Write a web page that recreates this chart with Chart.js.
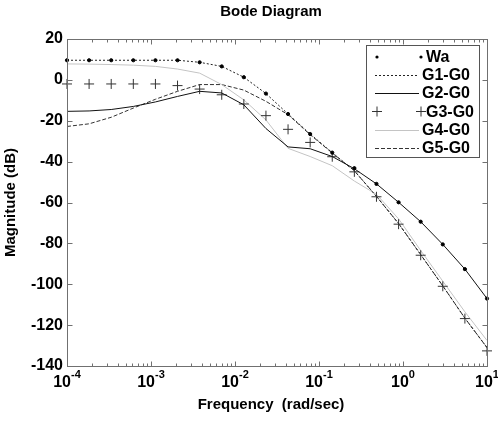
<!DOCTYPE html>
<html>
<head>
<meta charset="utf-8">
<script src="https://cdn.jsdelivr.net/npm/chart.js@4"></script>
<style>
  html, body { margin: 0; padding: 0; background: #fff; }
  #wrap { width: 498px; height: 421px; }
</style>
</head>
<body>
<div id="wrap"><canvas id="chart" width="498" height="421"></canvas></div>
<script>
// Bode Diagram - magnitude of Wa and five error curves G1..G5 minus G0
// 20 log-spaced frequencies from 1e-4 to 1e1 rad/sec

const freqs = [1e-4, 1.833e-4, 3.360e-4, 6.158e-4, 1.129e-3, 2.069e-3, 3.793e-3, 6.952e-3,
  1.274e-2, 2.336e-2, 4.281e-2, 7.848e-2, 0.1438, 0.2637, 0.4833, 0.8859, 1.624, 2.976, 5.456, 10];

const wa   = [9.6, 9.6, 9.6, 9.6, 9.6, 9.6, 8.6, 6.6, 1.3, -6.7, -16.7, -26.5, -35.6, -43.2, -50.9, -59.9, -69.4, -80.5, -92.6, -107.0];
const g1g0 = [9.6, 9.6, 9.6, 9.6, 9.6, 9.6, 8.6, 6.6, 1.3, -6.7, -16.7, -26.5, -35.6, -44.5, -57.0, -70.3, -85.5, -100.8, -116.6, -131.0];
const g2g0 = [-15.4, -15.2, -14.5, -13.0, -10.8, -8.1, -5.6, -6.4, -12.2, -23.8, -32.8, -33.7, -37.5, -43.5, -50.9, -59.9, -69.4, -80.5, -92.6, -107.0];
const g3g0 = [-2.0, -2.0, -2.0, -2.0, -2.0, -2.8, -4.5, -7.3, -11.8, -17.5, -24.2, -30.6, -37.6, -45.0, -57.2, -70.6, -85.8, -101.0, -116.8, -132.6];
const g4g0 = [7.8, 7.7, 7.5, 7.2, 6.6, 5.3, 3.3, -2.3, -9.8, -19.6, -33.5, -37.5, -42.0, -49.5, -56.0, -68.0, -83.5, -98.5, -113.5, -127.5];
const g5g0 = [-22.8, -21.5, -18.3, -13.8, -9.5, -5.6, -2.3, -2.3, -5.0, -10.5, -17.0, -26.8, -35.8, -44.5, -57.0, -70.3, -85.5, -100.8, -116.6, -131.0];

const xExponents = [-4, -3, -2, -1, 0, 1];
const yTicks = [20, 0, -20, -40, -60, -80, -100, -120, -140];

const FONT = 'Arial, "Liberation Sans", Helvetica, sans-serif';

function pts(vals) { return vals.map((v, i) => ({ x: freqs[i], y: v })); }

// frame with inward ticks, x tick labels with superscripts, title, x label, legend
const bodeDecor = {
  id: 'bodeDecor',
  afterDatasetsDraw(chart) {
    const ctx = chart.ctx, a = chart.chartArea, xs = chart.scales.x, ys = chart.scales.y;
    ctx.save();
    ctx.strokeStyle = '#707070';
    ctx.lineWidth = 1;
    const L = Math.round(a.left) + 0.5, R = Math.round(a.right) + 0.5;
    const T = Math.round(a.top) + 0.5, B = Math.round(a.bottom) + 0.5;
    ctx.strokeRect(L, T, R - L, B - T);
    ctx.beginPath();
    // x ticks (log minor + major), bottom and top
    for (let e = -4; e <= 0; e++) {
      for (let m = 1; m <= 9; m++) {
        const px = Math.round(xs.getPixelForValue(m * Math.pow(10, e))) + 0.5;
        const len = m === 1 ? 5 : 3;
        ctx.moveTo(px, B); ctx.lineTo(px, B - len);
        ctx.moveTo(px, T); ctx.lineTo(px, T + len);
      }
    }
    // y ticks, left and right
    yTicks.forEach(v => {
      const py = Math.round(ys.getPixelForValue(v)) + 0.5;
      ctx.moveTo(L, py); ctx.lineTo(L + 5, py);
      ctx.moveTo(R, py); ctx.lineTo(R - 5, py);
    });
    ctx.stroke();

    // x tick labels 10^n
    ctx.fillStyle = '#000';
    ctx.textBaseline = 'alphabetic';
    ctx.textAlign = 'left';
    xExponents.forEach(e => {
      const px = xs.getPixelForValue(Math.pow(10, e));
      const ex = String(e);
      ctx.font = 'bold 16px ' + FONT;
      const w1 = ctx.measureText('10').width;
      ctx.font = 'bold 11px ' + FONT;
      const w2 = ctx.measureText(ex).width;
      const x0 = px - (w1 + w2) / 2;
      ctx.font = 'bold 16px ' + FONT;
      ctx.fillText('10', x0, 387);
      ctx.font = 'bold 11px ' + FONT;
      ctx.fillText(ex, x0 + w1, 378);
    });

    // title and x axis label
    ctx.textAlign = 'center';
    ctx.textBaseline = 'middle';
    ctx.font = 'bold 15px ' + FONT;
    ctx.fillText('Bode Diagram', 271, 12);
    ctx.fillText('Frequency  (rad/sec)', 271, 405);
    ctx.restore();
  },
  afterDraw(chart) {
    const ctx = chart.ctx;
    ctx.save();
    ctx.fillStyle = '#fff';
    ctx.fillRect(366.5, 45.5, 113, 112);
    ctx.strokeStyle = '#555';
    ctx.lineWidth = 1;
    ctx.strokeRect(366.5, 45.5, 113, 112);
    const rows = [57, 75, 93, 111.5, 129.5, 147.5];
    chart.data.datasets.forEach((ds, i) => {
      const y = rows[i];
      ctx.save();
      if (ds.showLine === false) {
        ctx.fillStyle = ds.backgroundColor;
        ctx.strokeStyle = ds.borderColor;
        ctx.lineWidth = 1;
        [377, 421].forEach(x => {
          if (ds.pointStyle === 'cross') {
            ctx.beginPath();
            ctx.moveTo(x - 5, y); ctx.lineTo(x + 5, y);
            ctx.moveTo(x, y - 5); ctx.lineTo(x, y + 5);
            ctx.stroke();
          } else {
            ctx.beginPath();
            ctx.arc(x, y, ds.pointRadius, 0, Math.PI * 2);
            ctx.fill();
          }
        });
      } else {
        ctx.strokeStyle = ds.borderColor;
        ctx.lineWidth = ds.borderWidth;
        ctx.setLineDash(ds.borderDash || []);
        ctx.beginPath();
        ctx.moveTo(375, Math.round(y) + 0.5);
        ctx.lineTo(419, Math.round(y) + 0.5);
        ctx.stroke();
      }
      ctx.restore();
      ctx.fillStyle = '#000';
      ctx.font = 'bold 16px ' + FONT;
      ctx.textAlign = 'left';
      ctx.textBaseline = 'middle';
      ctx.fillText(ds.label, ds.showLine === false ? 426 : 422, y + 1);
    });
    ctx.restore();
  }
};

new Chart(document.getElementById('chart'), {
  type: 'line',
  data: {
    datasets: [
      { label: 'Wa', data: pts(wa), showLine: false, pointStyle: 'circle', pointRadius: 1.6,
        borderColor: '#000', backgroundColor: '#000', clip: false },
      { label: 'G1-G0', data: pts(g1g0), borderColor: '#222', borderWidth: 1, borderDash: [2, 2],
        pointRadius: 0, fill: false },
      { label: 'G2-G0', data: pts(g2g0), borderColor: '#111', borderWidth: 1,
        pointRadius: 0, fill: false },
      { label: 'G3-G0', data: pts(g3g0), showLine: false, pointStyle: 'cross', pointRadius: 5,
        borderColor: '#333', backgroundColor: '#333', borderWidth: 1, clip: false },
      { label: 'G4-G0', data: pts(g4g0), borderColor: '#c4c4c4', borderWidth: 1,
        pointRadius: 0, fill: false },
      { label: 'G5-G0', data: pts(g5g0), borderColor: '#333', borderWidth: 1, borderDash: [4, 2],
        pointRadius: 0, fill: false },
    ]
  },
  options: {
    responsive: false,
    animation: false,
    events: [],
    layout: { padding: { top: 39, right: 11, bottom: 0, left: 0 } },
    elements: { line: { tension: 0 } },
    scales: {
      x: {
        type: 'logarithmic', min: 1e-4, max: 10,
        grid: { display: false, drawTicks: false },
        border: { display: false },
        ticks: { display: false },
        afterFit: s => { s.height = 55; }
      },
      y: {
        min: -140, max: 20,
        grid: { display: false, drawTicks: false },
        border: { display: false },
        ticks: { stepSize: 20, color: '#000', padding: 4, font: { family: FONT, size: 16, weight: 'bold' } },
        title: { display: true, text: 'Magnitude (dB)', color: '#000', padding: { top: 2, bottom: 0 },
          font: { family: FONT, size: 15, weight: 'bold' } },
        afterFit: s => { s.width = 67; }
      }
    },
    plugins: { legend: { display: false }, tooltip: { enabled: false } }
  },
  plugins: [bodeDecor]
});
</script>
</body>
</html>
